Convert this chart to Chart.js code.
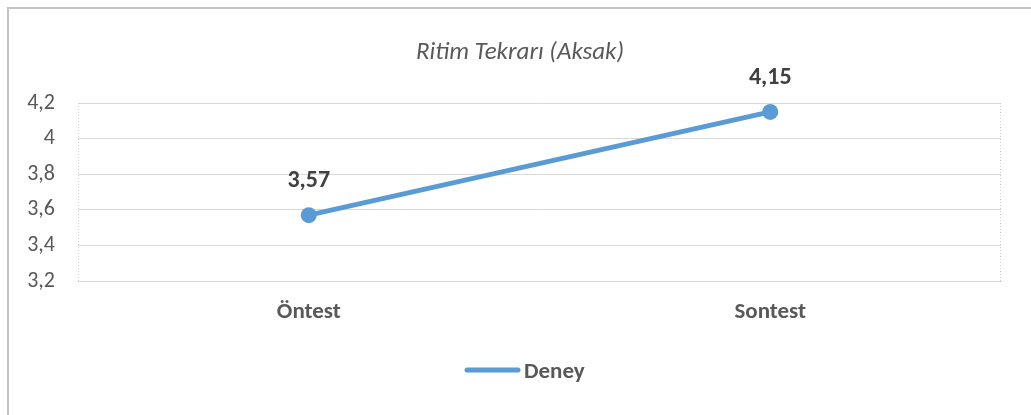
<!DOCTYPE html>
<html>
<head>
<meta charset="utf-8">
<script src="https://cdn.jsdelivr.net/npm/chart.js@4/dist/chart.umd.min.js"></script>
<style>
  html, body { margin: 0; padding: 0; background: #fff; }
  #wrap { position: relative; width: 1031px; height: 415px; }
  #frame { position: absolute; left: 7px; top: 7px; right: -5px; bottom: -5px;
           border-left: 2px solid #c4c4c4; border-top: 2px solid #c4c4c4; }
  canvas { position: absolute; left: 0; top: 0; }
</style>
</head>
<body>
<div id="wrap">
  <div id="frame"></div>
  <canvas id="chart" width="1031" height="415"></canvas>
</div>
<script>
"use strict";

const categories = ["Öntest", "Sontest"];
const deneyValues = [3.57, 4.15];
const yMin = 3.2;
const yMax = 4.2;
const yStep = 0.2;

const FONT = "Carlito, Calibri, Lato, sans-serif";
const fmt = (v) => String(Number(v.toFixed(2))).replace(".", ",");

// values above the points
const valueLabels = {
  id: "valueLabels",
  afterDatasetsDraw(chart) {
    const ctx = chart.ctx;
    const meta = chart.getDatasetMeta(0);
    ctx.save();
    ctx.font = "bold 24px " + FONT;
    ctx.fillStyle = "#404040";
    ctx.textAlign = "center";
    ctx.textBaseline = "middle";
    meta.data.forEach((pt, i) => {
      ctx.fillText(fmt(chart.data.datasets[0].data[i]), pt.x, pt.y - 34);
    });
    ctx.restore();
  }
};

// dotted plot-area sides
const plotSides = {
  id: "plotSides",
  beforeDatasetsDraw(chart) {
    const {ctx, chartArea: a} = chart;
    ctx.save();
    ctx.strokeStyle = "#d0d0d0";
    ctx.lineWidth = 1;
    ctx.setLineDash([1, 2]);
    ctx.beginPath();
    ctx.moveTo(a.left + 0.5, a.top);
    ctx.lineTo(a.left + 0.5, a.bottom);
    ctx.moveTo(a.right - 0.5, a.top);
    ctx.lineTo(a.right - 0.5, a.bottom);
    ctx.stroke();
    ctx.restore();
  }
};

// legend drawn like the Excel one: line sample tight against the label
const lineLegend = {
  id: "lineLegend",
  afterDraw(chart) {
    const ctx = chart.ctx;
    const ds = chart.data.datasets[0];
    ctx.save();
    ctx.strokeStyle = ds.borderColor;
    ctx.lineWidth = 5;
    ctx.lineCap = "round";
    ctx.beginPath();
    ctx.moveTo(467, 370);
    ctx.lineTo(518, 370);
    ctx.stroke();
    ctx.font = "bold 23px " + FONT;
    ctx.fillStyle = "#595959";
    ctx.textAlign = "left";
    ctx.textBaseline = "middle";
    ctx.fillText(ds.label, 524, 372);
    ctx.restore();
  }
};

const ctx = document.getElementById("chart").getContext("2d");

new Chart(ctx, {
  type: "line",
  data: {
    labels: categories,
    datasets: [
      {
        label: "Deney",
        data: deneyValues,
        borderColor: "#5b9bd5",
        backgroundColor: "#5b9bd5",
        borderWidth: 5,
        borderCapStyle: "round",
        pointRadius: 8,
        pointHoverRadius: 8,
        pointBackgroundColor: "#5b9bd5",
        pointBorderWidth: 0,
      },
    ],
  },
  plugins: [valueLabels, plotSides, lineLegend],
  options: {
    responsive: false,
    animation: false,
    layout: {
      padding: {left: 9, right: 0, top: 0, bottom: 65},
    },
    plugins: {
      tooltip: {enabled: false},
      legend: {display: false},
      title: {
        display: true,
        text: "Ritim Tekrarı (Aksak)",
        color: "#595959",
        font: {family: FONT, size: 25, style: "italic", weight: "normal", lineHeight: 1.2},
        padding: {top: 38, bottom: 35},
      },
    },
    scales: {
      x: {
        offset: true,
        grid: {display: false},
        border: {display: true, color: "#d9d9d9", width: 1},
        ticks: {
          color: "#595959",
          font: {family: FONT, size: 23, weight: "bold"},
          padding: 9,
        },
        afterFit(scale) { scale.height = 69; },
      },
      y: {
        min: yMin,
        max: yMax,
        ticks: {
          stepSize: yStep,
          color: "#595959",
          font: {family: FONT, size: 22},
          padding: 23,
          callback: (v) => fmt(v),
        },
        grid: {color: "#d9d9d9", lineWidth: 1, drawTicks: false},
        border: {display: false},
        afterFit(scale) { scale.width = 69; },
      },
      // empty right-hand spacer so the plot ends where the original does
      yRight: {
        position: "right",
        ticks: {display: false},
        grid: {display: false},
        border: {display: false},
        afterFit(scale) { scale.width = 30; },
      },
    },
  },
});
</script>
</body>
</html>
